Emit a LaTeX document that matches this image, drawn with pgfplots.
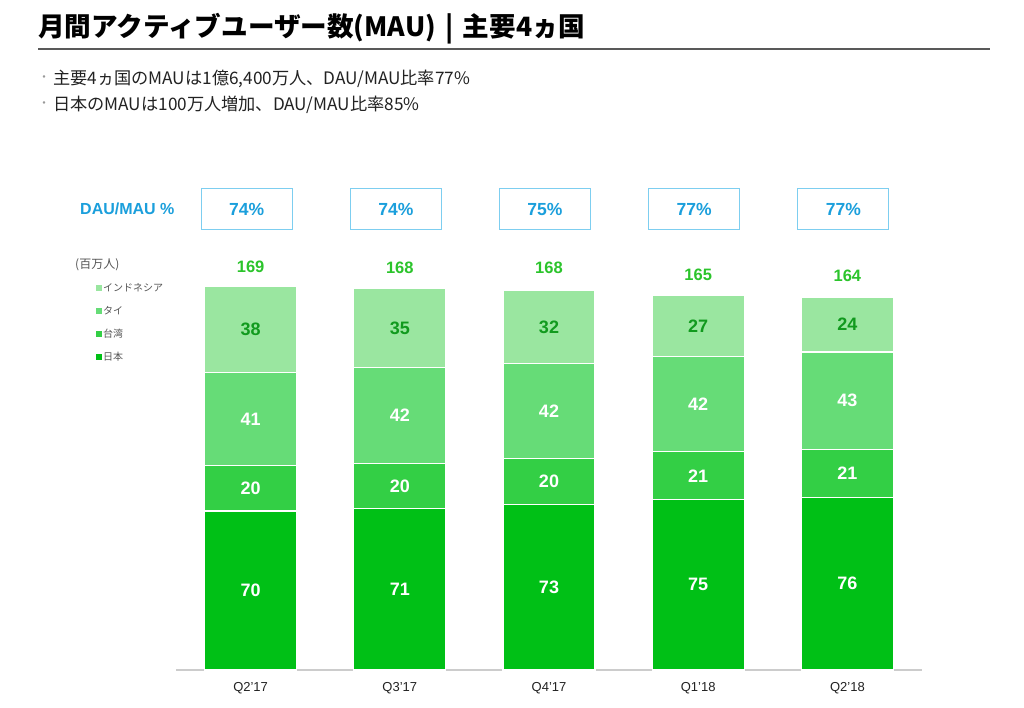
\documentclass[border=0pt]{standalone}
\usepackage{fontspec}
\setmainfont{Liberation Sans}
\newfontfamily\jp{Noto Sans CJK JP}
\usepackage{pgfplots}
\pgfplotsset{compat=1.18}

\definecolor{cJapan}{HTML}{00C016}
\definecolor{cTaiwan}{HTML}{33CF45}
\definecolor{cThai}{HTML}{66DC77}
\definecolor{cIndo}{HTML}{9AE6A0}
\definecolor{cIndoTxt}{HTML}{119A1E}
\definecolor{cTotal}{HTML}{2BC42B}
\definecolor{cBlue}{HTML}{1B9FDC}
\definecolor{cBox}{HTML}{7DCEF0}
\definecolor{cText}{HTML}{222222}
\definecolor{cLegend}{HTML}{555555}

% one px of the slide = 1pt; axis baseline at y=670px from top
\pgfplotsset{
  mauframe/.style={
    at={(176pt,37pt)}, anchor=south west,
    scale only axis, width=746pt, height=499.84pt,
    xmin=-0.5, xmax=4.5, ymin=0, ymax=220,
    clip=false,
  },
  labelplot/.style 2 args={
    draw=none, mark=none,
    nodes near coords={\bfseries\fontsize{#2}{#2}\selectfont\pgfplotspointmeta},
    point meta=explicit symbolic,
    nodes near coords style={anchor=center, text=#1},
  },
}

\begin{document}
\begin{tikzpicture}[x=1pt,y=1pt]
\path[fill=white] (0,0) rectangle (1024,707);

% title and bullets
\node[anchor=west, inner sep=0pt, text=black] at (38,678)
  {\jp\bfseries\fontsize{26.6}{30}\selectfont 月間アクティブユーザー数(MAU)\hspace{0.35em}|\hspace{0.35em}主要4ヵ国};
\draw[line width=1.5pt, color=black!65] (38,658) -- (990,658);
\node[anchor=west, inner sep=0pt, text=black!40] at (38,628) {\jp\fontsize{12}{14}\selectfont ・};
\node[anchor=west, inner sep=0pt, text=cText] at (53,628)
  {\jp\fontsize{17.2}{20}\selectfont 主要4ヵ国のMAUは1億6,400万人、DAU/MAU比率77\%};
\node[anchor=west, inner sep=0pt, text=black!40] at (38,602) {\jp\fontsize{12}{14}\selectfont ・};
\node[anchor=west, inner sep=0pt, text=cText] at (53,602)
  {\jp\fontsize{17.2}{20}\selectfont 日本のMAUは100万人増加、DAU/MAU比率85\%};

\node[anchor=west, inner sep=0pt, text=cBlue] at (80,498)
  {\bfseries\fontsize{16}{19}\selectfont DAU/MAU \%};
\node[anchor=west, inner sep=0pt, text=cLegend] at (75,442)
  {\jp\fontsize{12}{14}\selectfont (百万人)};

\begin{axis}[mauframe,
  ybar stacked, bar width=92pt,
  axis y line=none, axis x line=bottom,
  x axis line style={-, draw=black!20, line width=1.5pt},
  xtick={0,1,2,3,4},
  xticklabels={Q2'17,Q3'17,Q4'17,Q1'18,Q2'18},
  major tick length=0pt,
  xticklabel style={font=\fontsize{13}{15}\selectfont, text=cText, yshift=-9pt},
  reverse legend,
  legend cell align=left,
  legend image code/.code={\path[#1, draw=none] (0pt,-3pt) rectangle (6pt,3pt);},
  legend style={draw=none, fill=none, inner sep=0pt,
    at={(axis description cs:-0.1072,0.776)}, anchor=north west,
    font=\jp\fontsize{10}{12}\selectfont, text=cLegend,
    row sep=11.3pt, nodes={inner sep=1pt}},
  every axis plot/.append style={draw=white, line width=1.2pt},
]
\addplot[fill=cJapan]  coordinates {(0,70) (1,71) (2,73) (3,75) (4,76)};
\addlegendentry{日本}
\addplot[fill=cTaiwan] coordinates {(0,20) (1,20) (2,20) (3,21) (4,21)};
\addlegendentry{台湾}
\addplot[fill=cThai]   coordinates {(0,41) (1,42) (2,42) (3,42) (4,43)};
\addlegendentry{タイ}
\addplot[fill=cIndo]   coordinates {(0,38) (1,35) (2,32) (3,27) (4,24)};
\addlegendentry{インドネシア}
\end{axis}

\begin{axis}[mauframe, hide axis]
% values inside the segments
\addplot[labelplot={white}{18}] coordinates
  {(0,35)[70] (1,35.5)[71] (2,36.5)[73] (3,37.5)[75] (4,38)[76]};
\addplot[labelplot={white}{18}] coordinates
  {(0,80)[20] (1,81)[20] (2,83)[20] (3,85.5)[21] (4,86.5)[21]};
\addplot[labelplot={white}{18}] coordinates
  {(0,110.5)[41] (1,112)[42] (2,114)[42] (3,117)[42] (4,118.5)[43]};
\addplot[labelplot={cIndoTxt}{18}] coordinates
  {(0,150)[38] (1,150.5)[35] (2,151)[32] (3,151.5)[27] (4,152)[24]};
% totals
\addplot[labelplot={cTotal}{16.5}] coordinates
  {(0,177.4)[169] (1,176.9)[168] (2,176.9)[168] (3,173.9)[165] (4,173.4)[164]};
% DAU/MAU ratios
\addplot[labelplot={cBlue}{17.5},
  nodes near coords style={draw=cBox, line width=1pt, xshift=-4pt,
    minimum width=91pt, minimum height=41pt}] coordinates
  {(0,202.9)[74\%] (1,202.9)[74\%] (2,202.9)[75\%] (3,202.9)[77\%] (4,202.9)[77\%]};
\end{axis}
\end{tikzpicture}
\end{document}
